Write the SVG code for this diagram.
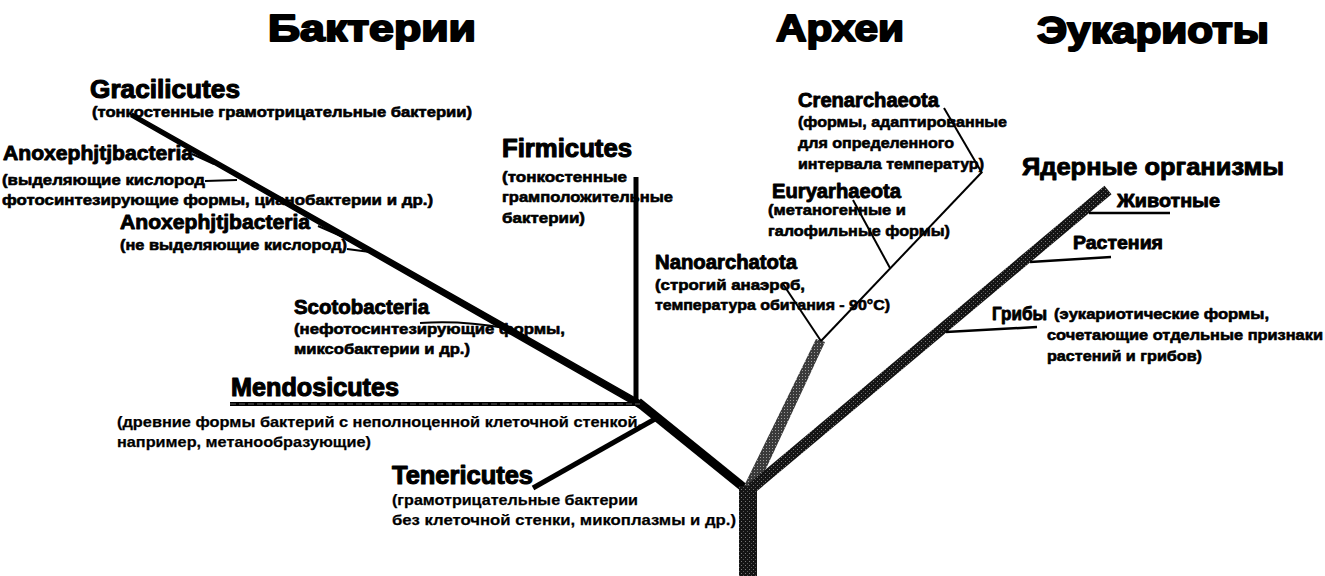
<svg xmlns="http://www.w3.org/2000/svg" width="1325" height="576" viewBox="0 0 1325 576">
  <defs>
    <pattern id="grainDark" width="4" height="4" patternUnits="userSpaceOnUse">
      <rect width="4" height="4" fill="#141414"/>
      <rect x="1" y="1" width="1" height="1" fill="#777"/>
      <rect x="3" y="3" width="1" height="1" fill="#555"/>
    </pattern>
    <pattern id="grainGrey" width="3" height="3" patternUnits="userSpaceOnUse">
      <rect width="3" height="3" fill="#3a3a3a"/>
      <rect x="1" y="1" width="1" height="1" fill="#9a9a9a"/>
    </pattern>
    <style>
      text { font-family: "Liberation Sans", Arial, sans-serif; font-weight: bold; fill: #000; stroke: #000; stroke-linejoin: round; }
      .title { font-size: 37px; stroke-width: 2; }
      .big { font-size: 25px; stroke-width: 1.1; }
      .mid { font-size: 20px; stroke-width: 0.9; }
      .sub { font-size: 15px; stroke-width: 0.6; }
      .plain { font-size: 15px; stroke-width: 0.25; }
      .stem { stroke: #000; fill: none; stroke-linecap: butt; }
      .thin { stroke: #000; stroke-width: 2; fill: none; }
    </style>
  </defs>

  <rect width="1325" height="576" fill="#fff"/>

  <!-- domain headings -->
  <g id="heading-bacteria"><text class="title" x="268" y="41" textLength="208" lengthAdjust="spacingAndGlyphs">Бактерии</text></g>
  <g id="heading-archaea"><text class="title" x="776" y="41" textLength="128" lengthAdjust="spacingAndGlyphs">Археи</text></g>
  <g id="heading-eukaryotes"><text class="title" x="1037" y="43" textLength="232" lengthAdjust="spacingAndGlyphs">Эукариоты</text></g>

  <!-- tree branches -->
  <g id="connectors">
    <!-- bacterial limb, tapering towards its tip -->
    <polygon points="132.9,113.4 131.1,116.6 639.4,407.8 642.6,402.2" fill="#000" stroke="#000" stroke-width="1.5"/>
    <line class="stem" x1="638" y1="402" x2="748" y2="491" stroke-width="9"/>
    <line class="stem" x1="636" y1="177" x2="636" y2="406" stroke-width="5"/>
    <line class="stem" x1="230" y1="404" x2="640" y2="404" stroke-width="4"/>
    <line x1="230" y1="404" x2="640" y2="404" stroke="#777" stroke-width="0.8" stroke-dasharray="6 3"/>
    <line class="stem" x1="533" y1="488" x2="655" y2="419" stroke-width="5"/>
    <line class="thin" x1="192" y1="154" x2="214" y2="164"/>
    <line class="thin" x1="205" y1="181" x2="237" y2="180" stroke-width="2.5"/>
    <line class="thin" x1="318" y1="226" x2="341" y2="236"/>
    <line class="thin" x1="347" y1="249" x2="370" y2="252"/>
    <path class="thin" d="M420 323 Q460 320 505 328"/>

    <!-- archaeal limb -->
    <polygon points="816,339 825,342 757,488 743,488" fill="url(#grainGrey)"/>
    <line class="thin" x1="982" y1="172" x2="821" y2="341"/>
    <line class="thin" x1="944" y1="108" x2="982" y2="173"/>
    <line class="thin" x1="853" y1="200" x2="890" y2="268"/>
    <line class="thin" x1="783" y1="284" x2="821" y2="341" stroke-width="2.5"/>

    <!-- eukaryotic limb -->
    <line x1="752" y1="488" x2="1108" y2="190" stroke="url(#grainDark)" stroke-width="11"/>
    <line class="stem" x1="1089" y1="213" x2="1170" y2="213" stroke-width="2.5"/>
    <line class="stem" x1="1030" y1="262" x2="1111" y2="257" stroke-width="2.5"/>
    <line class="stem" x1="946" y1="332" x2="1037" y2="327" stroke-width="2.5"/>

    <!-- common trunk -->
    <rect x="739" y="486" width="18" height="90" fill="url(#grainDark)"/>
  </g>

  <!-- bacteria -->
  <g id="gracilicutes">
    <text class="big" x="90" y="98" textLength="150" lengthAdjust="spacingAndGlyphs">Gracilicutes</text>
    <text class="sub" x="92" y="117" textLength="380" lengthAdjust="spacingAndGlyphs">(тонкостенные грамотрицательные бактерии)</text>
  </g>
  <g id="anoxephjtjbacteria-oxygenic">
    <text class="mid" x="3" y="160" textLength="190" lengthAdjust="spacingAndGlyphs">Anoxephjtjbacteria</text>
    <text class="sub" x="2" y="185" textLength="203" lengthAdjust="spacingAndGlyphs">(выделяющие кислород</text>
    <text class="sub" x="2" y="205" textLength="431" lengthAdjust="spacingAndGlyphs">фотосинтезирующие формы, цианобактерии и др.)</text>
  </g>
  <g id="anoxephjtjbacteria-anoxygenic">
    <text class="mid" x="120" y="229" textLength="190" lengthAdjust="spacingAndGlyphs">Anoxephjtjbacteria</text>
    <text class="sub" x="120" y="250" textLength="227" lengthAdjust="spacingAndGlyphs">(не выделяющие кислород)</text>
  </g>
  <g id="scotobacteria">
    <text class="mid" x="294" y="314" textLength="135" lengthAdjust="spacingAndGlyphs">Scotobacteria</text>
    <text class="sub" x="294" y="334" textLength="271" lengthAdjust="spacingAndGlyphs">(нефотосинтезирующие формы,</text>
    <text class="sub" x="294" y="354" textLength="176" lengthAdjust="spacingAndGlyphs">миксобактерии и др.)</text>
  </g>
  <g id="mendosicutes">
    <text class="big" x="231" y="396" textLength="168" lengthAdjust="spacingAndGlyphs">Mendosicutes</text>
    <text class="plain" x="117" y="427" textLength="525" lengthAdjust="spacingAndGlyphs">(древние формы бактерий с неполноценной клеточной стенкой,</text>
    <text class="plain" x="117" y="447" textLength="254" lengthAdjust="spacingAndGlyphs">например, метанообразующие)</text>
  </g>
  <g id="tenericutes">
    <text class="big" x="392" y="484" textLength="141" lengthAdjust="spacingAndGlyphs">Tenericutes</text>
    <text class="plain" x="392" y="505" textLength="246" lengthAdjust="spacingAndGlyphs">(грамотрицательные бактерии</text>
    <text class="plain" x="392" y="525" textLength="344" lengthAdjust="spacingAndGlyphs">без клеточной стенки, микоплазмы и др.)</text>
  </g>
  <g id="firmicutes">
    <text class="big" x="502" y="157" textLength="130" lengthAdjust="spacingAndGlyphs">Firmicutes</text>
    <text class="sub" x="502" y="182" textLength="125" lengthAdjust="spacingAndGlyphs">(тонкостенные</text>
    <text class="sub" x="502" y="202" textLength="171" lengthAdjust="spacingAndGlyphs">грамположительные</text>
    <text class="sub" x="502" y="223" textLength="83" lengthAdjust="spacingAndGlyphs">бактерии)</text>
  </g>

  <!-- archaea -->
  <g id="nanoarchatota">
    <text class="mid" x="655" y="269" textLength="142" lengthAdjust="spacingAndGlyphs">Nanoarchatota</text>
    <text class="sub" x="655" y="290" textLength="150" lengthAdjust="spacingAndGlyphs">(строгий  анаэроб,</text>
    <text class="sub" x="655" y="310" textLength="235" lengthAdjust="spacingAndGlyphs">температура обитания - 90°C)</text>
  </g>
  <g id="crenarchaeota">
    <text class="mid" x="798" y="107" textLength="141" lengthAdjust="spacingAndGlyphs">Crenarchaeota</text>
    <text class="sub" x="798" y="127" textLength="209" lengthAdjust="spacingAndGlyphs">(формы, адаптированные</text>
    <text class="sub" x="798" y="148" textLength="156" lengthAdjust="spacingAndGlyphs">для определенного</text>
    <text class="sub" x="798" y="169" textLength="186" lengthAdjust="spacingAndGlyphs">интервала температур)</text>
  </g>
  <g id="euryarchaeota">
    <text class="mid" x="772" y="198" textLength="129" lengthAdjust="spacingAndGlyphs">Euryarhaeota</text>
    <text class="sub" x="768" y="215" textLength="138" lengthAdjust="spacingAndGlyphs">(метаногенные и</text>
    <text class="sub" x="768" y="236" textLength="182" lengthAdjust="spacingAndGlyphs">галофильные формы)</text>
  </g>

  <!-- eukaryotes -->
  <g id="nuclear-organisms"><text class="mid" x="1022" y="175" textLength="262" lengthAdjust="spacingAndGlyphs" style="font-size:23px">Ядерные организмы</text></g>
  <g id="animals"><text class="mid" x="1117" y="207" textLength="103" lengthAdjust="spacingAndGlyphs" style="font-size:19px">Животные</text></g>
  <g id="plants"><text class="mid" x="1073" y="249" textLength="90" lengthAdjust="spacingAndGlyphs" style="font-size:19px">Растения</text></g>
  <g id="fungi">
    <text class="mid" x="992" y="320" textLength="55" lengthAdjust="spacingAndGlyphs" style="font-size:19px">Грибы</text>
    <text class="sub" x="1054" y="319" textLength="215" lengthAdjust="spacingAndGlyphs">(эукариотические формы,</text>
    <text class="sub" x="1047" y="340" textLength="276" lengthAdjust="spacingAndGlyphs">сочетающие отдельные признаки</text>
    <text class="sub" x="1047" y="361" textLength="155" lengthAdjust="spacingAndGlyphs">растений и грибов)</text>
  </g>
</svg>
